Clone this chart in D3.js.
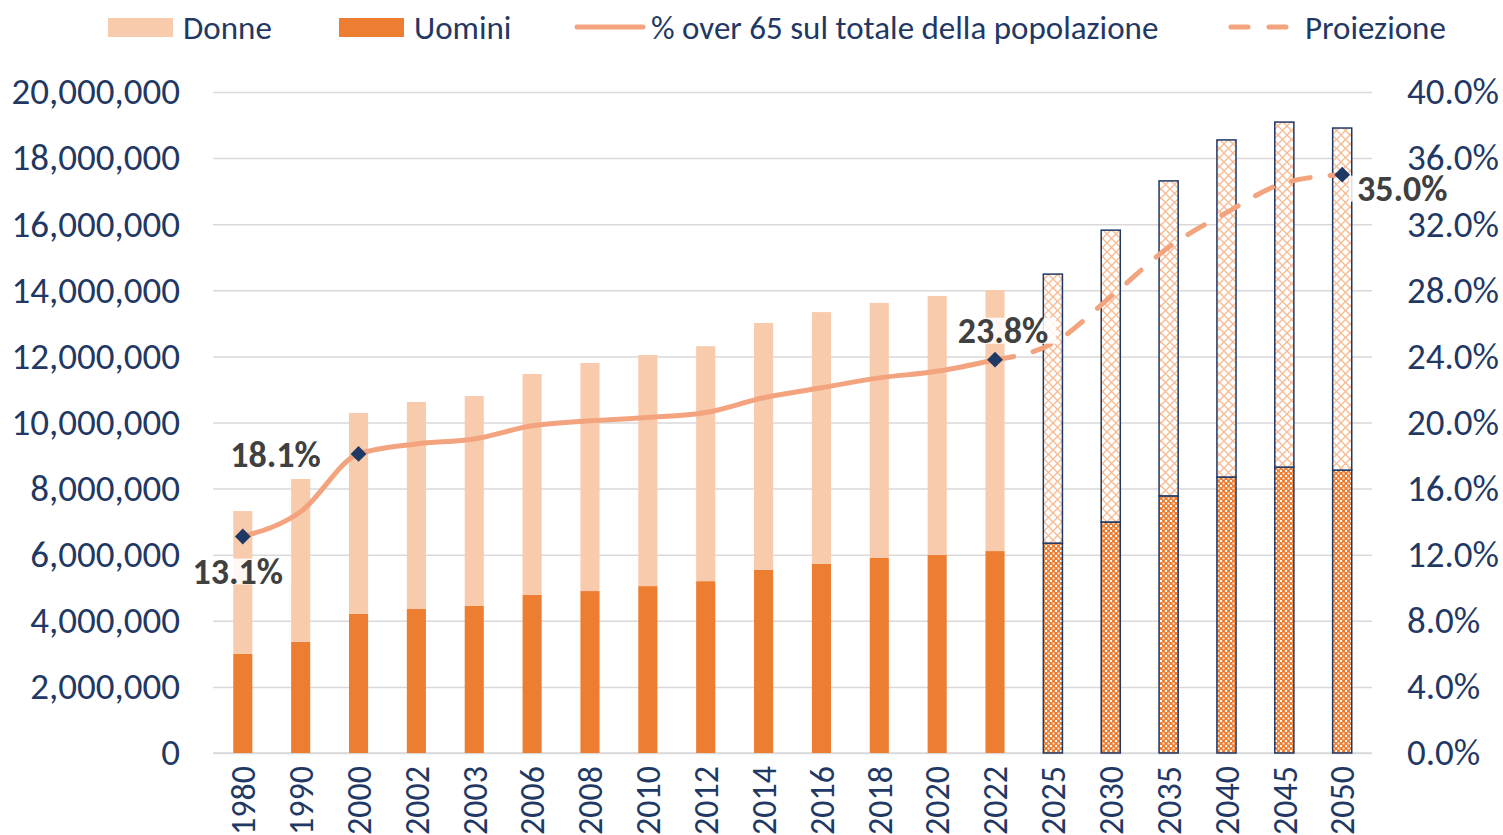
<!DOCTYPE html>
<html>
<head>
<meta charset="utf-8">
<script src="https://cdn.jsdelivr.net/npm/d3@7.9.0/dist/d3.min.js"></script>
<style>
  html, body { margin: 0; padding: 0; background: #fff; }
  svg { display: block; font-family: Carlito, Lato, "Open Sans", sans-serif; }
</style>
</head>
<body>
<svg id="chart" width="1503" height="835"></svg>
<script>
// anni (categorie)
let years = ['1980', '1990', '2000', '2002', '2003', '2006', '2008', '2010', '2012', '2014',
  '2016', '2018', '2020', '2022', '2025', '2030', '2035', '2040', '2045', '2050'];

// over 65 uomini
let uomini = [3000000, 3360000, 4210000, 4360000, 4450000, 4780000, 4900000, 5050000, 5200000, 5540000,
  5720000, 5900000, 5990000, 6110000, 6350000, 6990000, 7780000, 8350000, 8650000, 8560000];

// over 65 donne
let donne = [4320000, 4930000, 6080000, 6260000, 6350000, 6690000, 6900000, 6990000, 7110000, 7470000,
  7620000, 7720000, 7840000, 7900000, 8140000, 8830000, 9530000, 10200000, 10440000, 10350000];

// % over 65 sul totale (storico fino al 2022, poi proiezione)
let pctYears = ['1980', '1990', '2000', '2002', '2003', '2006', '2008', '2010', '2012', '2014',
  '2016', '2018', '2020', '2022'];
let pctValues = [13.1, 14.6, 18.1, 18.7, 19.0, 19.8, 20.1, 20.3, 20.6, 21.5, 22.1, 22.7, 23.1, 23.8];

let projYears = ['2022', '2025', '2030', '2035', '2040', '2045', '2050'];
let projValues = [23.8, 24.8, 27.6, 30.6, 32.7, 34.5, 35.0];

let firstProjYear = '2025';

// punti etichettati
let labelYears = ['1980', '2000', '2022', '2050'];
let labelValues = [13.1, 18.1, 23.8, 35.0];

let leftTicks = d3.range(0, 20000001, 2000000);
let rightTicks = d3.range(0, 40.1, 4);

let legendItems = ['Donne', 'Uomini', '% over 65 sul totale della popolazione', 'Proiezione'];

// ----------- colori -----------
let cDonne = '#F8CBAD';
let cUomini = '#ED7D31';
let cLine = '#F3A47F';
let cNavy = '#1F3864';
let cGrid = '#D9D9D9';
let cLabel = '#404040';

let svg = d3.select('#chart');

let mLeft = 213, mRight = 1372, mTop = 92, mBottom = 753;

let x = d3.scaleBand()
  .domain(years)
  .range([mLeft, mRight])
  .paddingInner(0.67)
  .paddingOuter(0.35);

let xc = d => x(d) + x.bandwidth() / 2;

let y = d3.scaleLinear().domain([0, 20000000]).range([mBottom, mTop]);
let yPct = d3.scaleLinear().domain([0, 40]).range([mBottom, mTop]);

// ----------- pattern per la proiezione -----------
let defs = svg.append('defs');

let hatch = defs.append('pattern')
  .attr('id', 'hatchDonne')
  .attr('patternUnits', 'userSpaceOnUse')
  .attr('width', 9)
  .attr('height', 9);
hatch.append('rect').attr('width', 9).attr('height', 9).attr('fill', '#fff');
hatch.append('path')
  .attr('d', 'M0,0 L9,9 M9,0 L0,9')
  .attr('stroke', '#F6BC96')
  .attr('stroke-width', 1.4);

let check = defs.append('pattern')
  .attr('id', 'checkUomini')
  .attr('patternUnits', 'userSpaceOnUse')
  .attr('width', 5)
  .attr('height', 5);
check.append('rect').attr('width', 5).attr('height', 5).attr('fill', cUomini);
check.append('rect').attr('x', 0).attr('y', 0).attr('width', 2).attr('height', 2).attr('fill', '#fff');
check.append('rect').attr('x', 2.5).attr('y', 2.5).attr('width', 2).attr('height', 2).attr('fill', '#fde6d6');

// ----------- griglia -----------
svg.append('g')
  .attr('class', 'grid')
  .attr('transform', `translate(${mLeft},0)`)
  .call(d3.axisLeft(y).tickValues(leftTicks).tickSize(-(mRight - mLeft)).tickFormat(''))
  .call(g => g.select('.domain').remove())
  .call(g => g.selectAll('line').attr('stroke', cGrid).attr('stroke-width', 1.5));

// ----------- assi -----------
svg.append('g')
  .attr('transform', `translate(${mLeft},0)`)
  .call(d3.axisLeft(y).tickValues(leftTicks).tickSize(0).tickPadding(33).tickFormat(d3.format(',')))
  .call(g => g.select('.domain').remove())
  .call(g => g.selectAll('text')
    .attr('fill', cNavy)
    .attr('font-size', 37)
    .attr('font-family', 'Carlito, Lato, sans-serif'));

svg.append('g')
  .attr('transform', `translate(${mRight},0)`)
  .call(d3.axisRight(yPct).tickValues(rightTicks).tickSize(0).tickPadding(35).tickFormat(d => d.toFixed(1) + '%'))
  .call(g => g.select('.domain').remove())
  .call(g => g.selectAll('text')
    .attr('fill', cNavy)
    .attr('font-size', 37)
    .attr('font-family', 'Carlito, Lato, sans-serif'));

svg.append('g')
  .attr('transform', `translate(0,${mBottom})`)
  .call(d3.axisBottom(x).tickSize(0).tickPadding(0))
  .call(g => g.select('.domain').attr('stroke', cGrid).attr('stroke-width', 1.5)
    .attr('d', `M${mLeft},0H${mRight}`))
  .call(g => g.selectAll('text')
    .attr('fill', cNavy)
    .attr('font-size', 34)
    .attr('font-family', 'Carlito, Lato, sans-serif')
    .attr('text-anchor', 'end')
    .attr('transform', 'rotate(-90)')
    .attr('x', -13)
    .attr('y', 0)
    .attr('dy', '0.36em'));

// ----------- barre impilate -----------
let barData = years.map((yr, i) => ({ year: yr, uomini: uomini[i], donne: donne[i], proj: +yr >= +firstProjYear }));

let bars = svg.append('g');

bars.selectAll('rect.uomini')
  .data(barData)
  .join('rect')
  .attr('class', 'uomini')
  .attr('x', d => x(d.year))
  .attr('width', x.bandwidth())
  .attr('y', d => y(d.uomini))
  .attr('height', d => y(0) - y(d.uomini))
  .attr('fill', d => d.proj ? 'url(#checkUomini)' : cUomini)
  .attr('stroke', d => d.proj ? cNavy : 'none')
  .attr('stroke-width', 1.5);

bars.selectAll('rect.donne')
  .data(barData)
  .join('rect')
  .attr('class', 'donne')
  .attr('x', d => x(d.year))
  .attr('width', x.bandwidth())
  .attr('y', d => y(d.uomini + d.donne))
  .attr('height', d => y(d.uomini) - y(d.uomini + d.donne))
  .attr('fill', d => d.proj ? 'url(#hatchDonne)' : cDonne)
  .attr('stroke', d => d.proj ? cNavy : 'none')
  .attr('stroke-width', 1.5);

// ----------- linee % -----------
let line = d3.line()
  .x(d => xc(d[0]))
  .y(d => yPct(d[1]))
  .curve(d3.curveMonotoneX);

svg.append('path')
  .datum(pctYears.map((yr, i) => [yr, pctValues[i]]))
  .attr('d', line)
  .attr('fill', 'none')
  .attr('stroke', cLine)
  .attr('stroke-width', 5)
  .attr('stroke-linecap', 'round');

svg.append('path')
  .datum(projYears.map((yr, i) => [yr, projValues[i]]))
  .attr('d', line)
  .attr('fill', 'none')
  .attr('stroke', cLine)
  .attr('stroke-width', 5)
  .attr('stroke-linecap', 'round')
  .attr('stroke-dasharray', '19 20');

// ----------- marker + etichette -----------
let labelOffsets = [[-5, 35], [-83, 1], [8, -29], [60, 14]];
let labelBoxes = [true, false, true, true];

labelYears.forEach((yr, i) => {
  let px = xc(yr), py = yPct(labelValues[i]);
  let lx = px + labelOffsets[i][0], ly = py + labelOffsets[i][1];
  let g = svg.append('g');
  let t = g.append('text')
    .attr('x', lx)
    .attr('y', ly)
    .attr('dy', '0.35em')
    .attr('text-anchor', 'middle')
    .attr('font-size', 36)
    .attr('font-weight', 'bold')
    .attr('fill', cLabel)
    .text(labelValues[i].toFixed(1) + '%');
  if (labelBoxes[i]) {
    let bb = t.node().getBBox();
    g.insert('rect', 'text')
      .attr('x', bb.x - 8)
      .attr('y', ly - 13)
      .attr('width', bb.width + 16)
      .attr('height', 26)
      .attr('fill', '#fff')
      .attr('fill-opacity', 0.85);
  }
  svg.append('path')
    .attr('d', d3.symbol(d3.symbolSquare, 125)())
    .attr('transform', `translate(${px},${py}) rotate(45)`)
    .attr('fill', cNavy);
});

// ----------- legenda -----------
let legend = svg.append('g').attr('font-size', 33).attr('fill', cNavy);
let legendX = [108, 339, 575, 1228];
let legendTextX = [183, 414, 651, 1305];
let legendY = 27;

legend.append('rect').attr('x', legendX[0]).attr('y', legendY - 9).attr('width', 65).attr('height', 19).attr('fill', cDonne);
legend.append('rect').attr('x', legendX[1]).attr('y', legendY - 9).attr('width', 65).attr('height', 19).attr('fill', cUomini);
legend.append('line')
  .attr('x1', legendX[2] + 2).attr('x2', legendX[2] + 68)
  .attr('y1', legendY).attr('y2', legendY)
  .attr('stroke', cLine).attr('stroke-width', 5).attr('stroke-linecap', 'round');
legend.append('line')
  .attr('x1', legendX[3] + 3).attr('x2', legendX[3] + 66)
  .attr('y1', legendY).attr('y2', legendY)
  .attr('stroke', cLine).attr('stroke-width', 5).attr('stroke-linecap', 'round')
  .attr('stroke-dasharray', '17 21');

legendItems.forEach((name, i) => {
  legend.append('text')
    .attr('x', legendTextX[i])
    .attr('y', legendY)
    .attr('dy', '0.35em')
    .text(name);
});
</script>
</body>
</html>
